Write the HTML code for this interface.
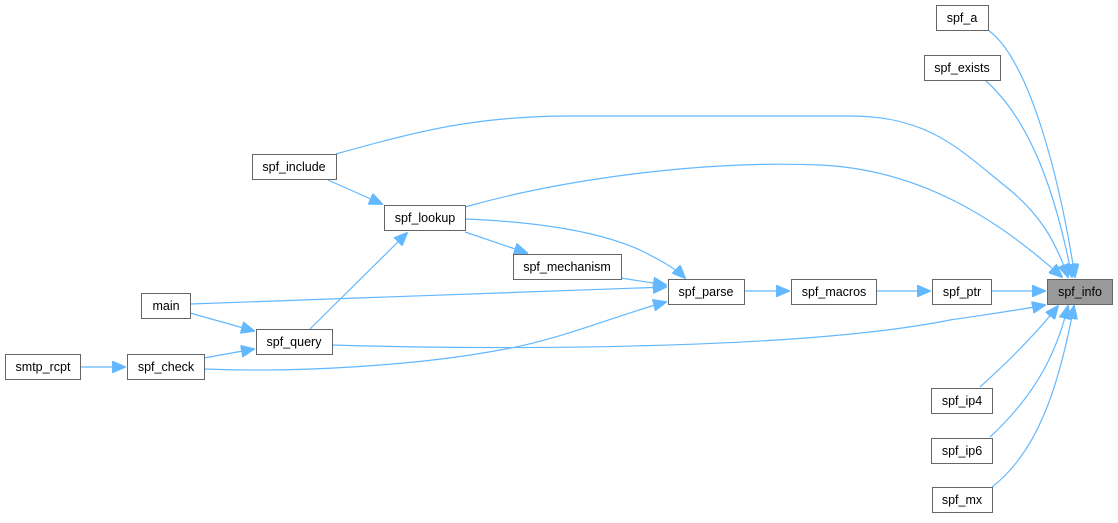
<!DOCTYPE html>
<html><head><style>
body{margin:0;background:#fff;width:1118px;height:518px;overflow:hidden}
svg text{font-family:"Liberation Sans",Arial,sans-serif;font-size:12.5px;fill:#000}
</style></head><body>
<svg width="1118" height="518" viewBox="0 0 1118 518">
<defs><marker id="a" markerWidth="14" markerHeight="12" refX="13" refY="6" orient="auto" markerUnits="userSpaceOnUse"><path d="M0,0 L14,6 L0,12 Z" fill="#63b8ff" stroke="#63b8ff"/></marker></defs>
<g fill="none" stroke="#63b8ff" stroke-width="1.2" marker-end="url(#a)">
<path d="M988,30 C1030,60 1060,180 1075,277"/>
<path d="M985,80 C1030,120 1055,190 1072,277"/>
<path d="M336,154 C420,130 480,116 570,116 L850,116 C930,116 960,150 1010,190 C1040,215 1055,240 1068,277"/>
<path d="M465,207 C560,180 700,160 820,165 C930,170 1010,230 1062,277"/>
<path d="M992,291 L1045,291"/>
<path d="M332,345 C500,350 800,350 950,320 C990,314 1020,310 1045,305"/>
<path d="M980,387 C1010,360 1035,335 1058,306"/>
<path d="M990,437 C1030,400 1055,360 1068,306"/>
<path d="M992,487 C1040,450 1060,380 1074,306"/>
<path d="M876,291 L930,291"/>
<path d="M744,291 L789,291"/>
<path d="M621,278 L666,285"/>
<path d="M465,219 C540,222 600,232 640,250 C660,260 675,268 685,278"/>
<path d="M190,304 L666,287"/>
<path d="M204,369 C300,373 420,365 500,350 C560,340 620,314 666,302"/>
<path d="M328,180 L382,204"/>
<path d="M465,232 L527,253"/>
<path d="M310,329 L407,233"/>
<path d="M190,313 L254,331"/>
<path d="M204,358 L254,349"/>
<path d="M80,367 L125,367"/>
</g>
<g stroke="#666" stroke-width="1" fill="#fff">
<rect x="936.5" y="5.5" width="52" height="25"/>
<rect x="924.5" y="55.5" width="76" height="25"/>
<rect x="252.5" y="154.5" width="84" height="25"/>
<rect x="384.5" y="205.5" width="81" height="25"/>
<rect x="513.5" y="254.5" width="108" height="25"/>
<rect x="668.5" y="279.5" width="76" height="25"/>
<rect x="791.5" y="279.5" width="85" height="25"/>
<rect x="932.5" y="279.5" width="59" height="25"/>
<rect x="1047.5" y="279.5" width="65" height="25" fill="#999"/>
<rect x="141.5" y="293.5" width="49" height="25"/>
<rect x="256.5" y="329.5" width="76" height="25"/>
<rect x="127.5" y="354.5" width="77" height="25"/>
<rect x="5.5" y="354.5" width="75" height="25"/>
<rect x="931.5" y="388.5" width="61" height="25"/>
<rect x="931.5" y="438.5" width="61" height="25"/>
<rect x="932.5" y="487.5" width="60" height="25"/>
</g>
<g text-anchor="middle">
<text x="962" y="22">spf_a</text>
<text x="962" y="72">spf_exists</text>
<text x="294" y="171">spf_include</text>
<text x="425" y="222">spf_lookup</text>
<text x="567" y="271">spf_mechanism</text>
<text x="706" y="296">spf_parse</text>
<text x="834" y="296">spf_macros</text>
<text x="962" y="296">spf_ptr</text>
<text x="1080" y="296">spf_info</text>
<text x="166" y="310">main</text>
<text x="294" y="346">spf_query</text>
<text x="166" y="371">spf_check</text>
<text x="43" y="371">smtp_rcpt</text>
<text x="962" y="405">spf_ip4</text>
<text x="962" y="455">spf_ip6</text>
<text x="962" y="504">spf_mx</text>
</g>
</svg>
</body></html>
